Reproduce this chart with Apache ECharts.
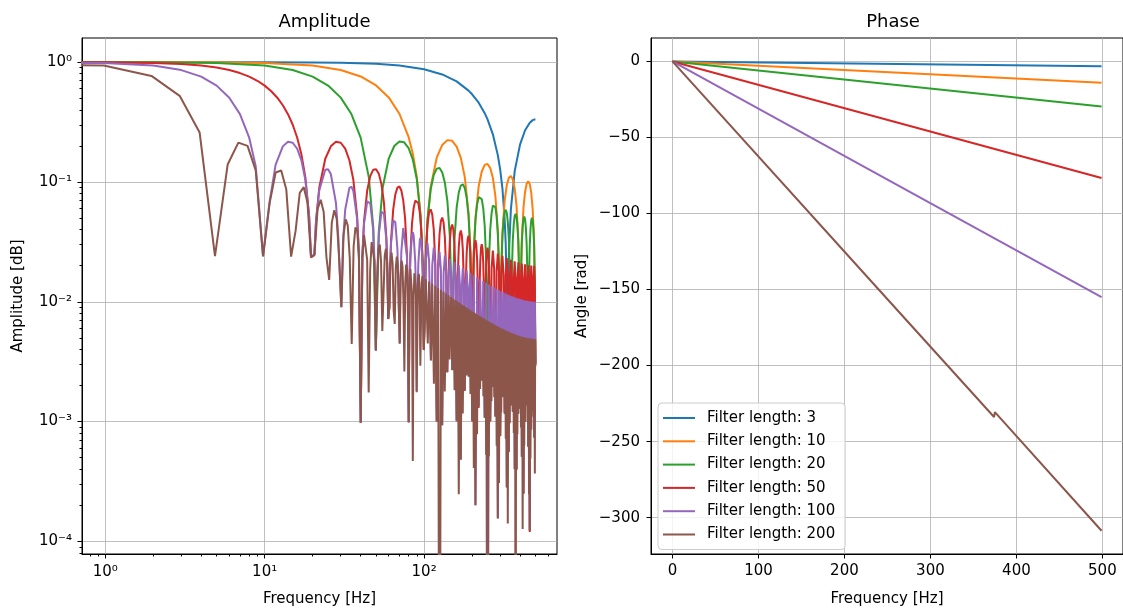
<!DOCTYPE html>
<html><head><meta charset="utf-8">
<script src="https://cdn.jsdelivr.net/npm/echarts@6/dist/echarts.min.js"></script>
<style>html,body{margin:0;padding:0;background:#fff}#c{width:1123px;height:612px}</style>
</head><body><div id="c"></div>
<script>
const seriesNames = ['Filter length: 3','Filter length: 10','Filter length: 20','Filter length: 50','Filter length: 100','Filter length: 200'];
const colors = ['#1f77b4','#ff7f0e','#2ca02c','#d62728','#9467bd','#8c564b'];

// Amplitude responses [frequency Hz, |H|]; the 0 Hz sample (|H| = 1) sits at 0.001 Hz, left of the log axis.
const amp3 = [[0.001,1],[0.977,1],[5,0.9997],[10,0.9987],[20,0.9947],[30,0.9882],[50,0.9674],[70,0.9366],[100,0.8727],[130,0.7897],[160,0.6905],[190,0.5788],[200,0.5393],[220,0.4583],[240,0.3752],[250,0.3333],[270,0.2497],[290,0.1675],[300,0.1273],[310,0.0879],[320,0.0495],[325,0.0307],[330,0.0123],[333.0,0.00116],[333.98,0.00237],[340,0.0239],[350,0.0585],[370,0.1231],[400,0.206],[430,0.2699],[460,0.3124],[480,0.3281],[499.02,0.3333]];
const amp10 = [[0.001,1],[0.977,0.9998],[5,0.9959],[10,0.9836],[20,0.9361],[30,0.8596],[40,0.7589],[50,0.6392],[60,0.5076],[70,0.3709],[80,0.2363],[85,0.172],[90,0.1108],[95,0.0532],[98,0.0207],[98.63,0.0141],[99.61,0.004],[100.59,0.0059],[102,0.0199],[105,0.0483],[110,0.0912],[120,0.1597],[130,0.2037],[140,0.2234],[150,0.2203],[160,0.1974],[170,0.1589],[180,0.1097],[190,0.055],[195,0.0272],[200.2,0.00104],[205,0.026],[210,0.0504],[220,0.0922],[230,0.1223],[240,0.1389],[250,0.1414],[260,0.1305],[270,0.1079],[280,0.0763],[290,0.0391],[295,0.0196],[299.8,0.00076],[305,0.0191],[310,0.0374],[320,0.0696],[330,0.094],[340,0.1085],[350,0.1122],[360,0.1051],[370,0.0881],[380,0.0632],[390,0.0328],[395,0.0165],[400.39,0.00129],[405,0.0164],[410,0.0322],[420,0.0607],[430,0.0829],[440,0.0968],[450,0.1012],[460,0.0959],[470,0.0813],[480,0.0589],[490,0.0309],[499.02,0.00306]];
const amp20 = [[0.001,1],[0.977,0.9994],[2,0.9974],[5,0.9836],[10,0.9357],[15,0.8587],[20,0.7574],[25,0.6373],[30,0.5053],[35,0.3686],[40,0.2345],[45,0.1097],[48,0.0417],[49.8,0.00394],[52,0.0385],[55,0.0899],[60,0.1568],[65,0.1995],[70,0.218],[75,0.2142],[80,0.1912],[85,0.1533],[90,0.1053],[95,0.0525],[98,0.0207],[99.61,0.004],[102,0.0197],[105,0.0477],[110,0.0868],[115,0.1145],[120,0.1292],[125,0.1307],[130,0.1198],[135,0.0983],[140,0.069],[145,0.0351],[148,0.014],[150.39,0.0027],[152,0.0134],[155,0.0327],[160,0.061],[165,0.0816],[170,0.0934],[175,0.0957],[180,0.0888],[185,0.0737],[190,0.0523],[195,0.0269],[198,0.0107],[200.2,0.00104],[202,0.0106],[205,0.0257],[210,0.048],[215,0.0647],[220,0.0746],[225,0.077],[230,0.0719],[235,0.0601],[240,0.0429],[245,0.0222],[248,0.0089],[250,1e-7],[252,0.0088],[255,0.0215],[260,0.0403],[265,0.0547],[270,0.0634],[275,0.0658],[280,0.0617],[285,0.0518],[290,0.0372],[295,0.0193],[298,0.0078],[299.8,0.00076],[302,0.0077],[305,0.0189],[310,0.0355],[315,0.0484],[320,0.0563],[325,0.0586],[330,0.0553],[335,0.0466],[340,0.0335],[345,0.0175],[348,0.0071],[349.61,0.0014],[352,0.007],[355,0.0172],[360,0.0325],[365,0.0444],[370,0.0518],[375,0.0541],[380,0.0511],[385,0.0432],[390,0.0312],[395,0.0163],[398,0.0066],[400.39,0.00129],[402,0.0066],[405,0.0162],[410,0.0306],[415,0.0419],[420,0.0491],[425,0.0514],[430,0.0487],[435,0.0413],[440,0.0299],[445,0.0157],[448,0.0063],[450.2,0.00062],[452,0.0063],[455,0.0156],[460,0.0296],[465,0.0407],[470,0.0478],[475,0.0502],[480,0.0477],[485,0.0405],[490,0.0294],[495,0.0155],[499.02,0.0031]];
const amp50 = [[0.001,1],[0.977,0.9961],[2,0.9836],[3,0.9634],[4,0.9355],[5,0.9003],[6,0.8584],[7,0.8104],[8,0.7569],[9,0.6987],[10,0.6367],[11,0.5718],[12,0.5047],[13,0.4365],[14,0.368],[15,0.3002],[16,0.234],[17,0.1701],[18,0.1093],[19,0.0524],[19.53,0.0234],[20.51,0.0248],[21,0.0474],[22,0.0895],[24,0.1561],[26,0.1983],[28,0.2165],[30,0.2125],[32,0.1895],[34,0.1518],[36,0.1042],[38,0.0519],[39,0.0256],[40.04,0.00098],[41,0.0244],[42,0.047],[44,0.0853],[46,0.1124],[48,0.1266],[50,0.1279],[52,0.117],[54,0.0959],[56,0.0672],[58,0.0341],[59,0.017],[59.57,0.0072],[60.55,0.0091],[61,0.0164],[62,0.0319],[64,0.0588],[66,0.0786],[68,0.0897],[70,0.0917],[72,0.0848],[74,0.0702],[76,0.0497],[78,0.0255],[79,0.0127],[80.08,0.00099],[81,0.0124],[82,0.0243],[84,0.0451],[86,0.0607],[88,0.0698],[90,0.0717],[92,0.0667],[94,0.0556],[96,0.0396],[98,0.0204],[99,0.0102],[99.61,0.004],
[102.5,0.0242],[105,0.0437],[107.5,0.0558],[110,0.059],[112.5,0.0534],[115,0.04],[117.5,0.0212],[120.12,0.001],[122.5,0.0204],[125,0.0369],[127.5,0.0474],[130,0.0504],[132.5,0.0457],[135,0.0344],[137.5,0.0183],[139.65,0.0026],[142.5,0.0177],[145,0.0321],[147.5,0.0413],[150,0.0441],[152.5,0.0401],[155,0.0302],[157.5,0.0161],[160.16,0.001],[162.5,0.0157],[165,0.0285],[167.5,0.0368],[170,0.0393],[172.5,0.0358],[175,0.0271],[177.5,0.0145],[179.69,0.0018],[182.5,0.0141],[185,0.0258],[187.5,0.0333],[190,0.0356],[192.5,0.0325],[195,0.0246],[197.5,0.0132],[200.2,0.001],[202.5,0.0129],[205,0.0236],[207.5,0.0305],[210,0.0326],[212.5,0.0299],[215,0.0226],[217.5,0.0121],[219.73,0.0013],[222.5,0.0119],[225,0.0218],[227.5,0.0282],[230,0.0302],[232.5,0.0277],[235,0.021],[237.5,0.0113],[240.23,0.0011],[242.5,0.0111],[245,0.0203],[247.5,0.0263],[250,0.0283],[252.5,0.0259],[255,0.0197],[257.5,0.0106],
[259.77,0.001],[265,0.0189],[270,0.0267],[275,0.0189],[280.27,0.0011],[285,0.0179],[290,0.0253],[295,0.0179],[299.8,0.00076],[305,0.0171],[310,0.0242],[315,0.0171],[320.31,0.0012],[325,0.0164],[330,0.0232],[335,0.0164],[339.84,0.00056],[345,0.0158],[350,0.0224],[355,0.0158],[360.35,0.0012],[365,0.0154],[370,0.0218],[375,0.0154],[379.88,0.0004],[385,0.0151],[390,0.0213],[395,0.0151],[400.39,0.0013],[405,0.0147],[410,0.0208],[415,0.0147],[419.92,0.00025],[425,0.0145],[430,0.0205],[435,0.0145],[440.43,0.0014],[445,0.0143],[450,0.0202],[455,0.0143],[459.96,0.00012],[465,0.0142],[470,0.0201],[475,0.0142],[480.47,0.0015],[485,0.0141],[490,0.02],[495,0.0141],[499.02,0.003]];
const amp100 = [[0.001,1],[0.977,0.9843],[2,0.9355],[3,0.8584],[4,0.7569],[5,0.6367],[6,0.5046],[7,0.3679],[8,0.2339],[8.789,0.1353],[9.766,0.024],[10.742,0.0685],[11.719,0.1397],[13,0.1981],[14,0.2163],[15,0.2123],[16,0.1893],[17,0.1516],[18,0.104],[19,0.0518],[19.53,0.0239],[20.51,0.0247],[21,0.0469],[22,0.0851],[24,0.1263],[25,0.1275],[26,0.1166],[28,0.0669],[29,0.034],[29.3,0.0238],[30.27,0.009],[31,0.0318],[32,0.0586],[34,0.0892],[35,0.0912],[36,0.0843],[38,0.0494],[39,0.0253],[40.04,0.00098],[41,0.0241],[42,0.0447],[44,0.069],[45,0.071],[46,0.066],[48,0.0391],[49,0.0202],[49.8,0.0039],[50.78,0.0153],[51,0.0194],[52,0.0361],[54,0.0564],[55,0.0582],[56,0.0543],[58,0.0324],[59,0.0168],[59.57,0.0072],[60.55,0.009],[61,0.0162],[62,0.0304],[64,0.0476],[65,0.0493],[66,0.0462],[68,0.0277],[69,0.0144],[69.34,0.0096],[70.31,0.0045],[71,0.014],[72,0.0262],[74,0.0413],[75,0.0428],[76,0.0402],[78,0.0242],[79,0.0126],[80.08,0.00098],[81,0.0123],[82,0.0231],[84,0.0365],[85,0.038],[86,0.0357],[88,0.0216],[89,0.0112],[89.84,0.0018],[91,0.011],[92,0.0207],[94,0.0328],[95,0.0341],[96,0.0322],[98,0.0195],[99,0.0101],[99.61,0.004],
[102.5,0.0218],[105,0.0309],[107.5,0.0218],[110.35,0.00325],[112.5,0.02],[115,0.0283],[117.5,0.02],[120.12,0.001],[122.5,0.0185],[125,0.0261],[127.5,0.0185],[129.88,0.00093],[132.5,0.0172],[135,0.0243],[137.5,0.0172],[139.65,0.00259],[142.5,0.0161],[145,0.0227],[147.5,0.0161],[150.39,0.00269],[152.5,0.0151],[155,0.0214],[157.5,0.0151],[160.16,0.00102],[162.5,0.0143],[165,0.0202],[167.5,0.0143],[169.92,0.00048],[172.5,0.0135],[175,0.0191],[177.5,0.0135],[179.69,0.00183],[182.5,0.0129],[185,0.0182],[187.5,0.0129],[190.43,0.00239],[192.5,0.0123],[195,0.0174],[197.5,0.0123],
[200.2,0.00104],[205,0.0167],[209.96,0.0002],[215,0.016],[219.73,0.00134],[225,0.0154],[230.47,0.00221],[235,0.0149],[240.23,0.00107],[245,0.0144],[250,1e-7],[255,0.0139],[259.77,0.00101],[265,0.0135],[269.53,0.00195],[275,0.0132],[280.27,0.00111],[285,0.0128],[290.04,0.000156],[295,0.0125],[299.8,0.00076],[305,0.0122],[309.57,0.00162],[315,0.012],[320.31,0.00116],[325,0.0117],[330.08,0.00028],[335,0.0115],[339.84,0.00056],[345,0.0113],[349.61,0.00137],[355,0.0111],[360.35,0.00122],[365,0.011],[370.12,0.0004],[375,0.0108],[379.88,0.0004],[385,0.0107],[389.65,0.00117],[395,0.0106],[400.39,0.00128],[405,0.0105],[410.16,0.00051],[415,0.0104],[419.92,0.00025],[425,0.0103],[429.69,0.001],[435,0.0102],[440.43,0.00137],[445,0.0102],[450.2,0.00062],[455,0.0101],[459.96,0.000124],[465,0.0101],[469.73,0.00086],[475,0.01],[480.47,0.00147],[485,0.01],[490.23,0.00074],[495,0.01],[499.02,0.003]];
const amp200 = [[0.001,1],[0.98,0.938],[1.95,0.767],[2.93,0.5235],[3.91,0.2585],[4.88,0.024],[5.86,0.1397],[6.84,0.2129],[7.81,0.1998],[8.79,0.1249],[9.77,0.0239],[10.74,0.0666],[11.72,0.1198],[12.7,0.1245],[13.67,0.0863],[14.65,0.0238],[15.63,0.039],[16.6,0.0811],[17.58,0.0905],[18.55,0.0677],[19.53,0.0237],[20.51,0.0244],[21.48,0.0595],[22.46,0.0709],[23.44,0.0565],[24.41,0.0235],[25.39,0.0152],[26.37,0.0458],[27.34,0.058],[28.32,0.049],[29.3,0.0233],[30.27,0.009],[31.25,0.0361],[32.23,0.0487],[33.2,0.0434],[34.18,0.023],[35.16,0.00445],[36.13,0.0288],[37.11,0.0417],[38.09,0.0391],[39.06,0.0227],[40.04,0.00098],[41.02,0.0232],[41.99,0.0361],[42.97,0.0356],[43.95,0.0224],[44.92,0.00175],[45.9,0.0186],[46.88,0.0315],[47.85,0.0326],[48.83,0.022],[49.8,0.00393],[50.78,0.0148],[51.76,0.0276],[52.73,0.03],[53.71,0.0216],[54.69,0.00571],[55.66,0.0117],[56.64,0.0242],[57.62,0.0277],[58.59,0.0211],[59.57,0.00717],[60.55,0.00892],[61.52,0.0213],[62.5,0.0257],[63.48,0.0207],[64.45,0.00838],[65.43,0.00654],[66.41,0.0187],[67.38,0.0238],[68.36,0.0201],[69.34,0.00939],[70.31,0.00446],[71.29,0.0163],[72.27,0.022],[73.24,0.0196],[74.22,0.0102],[75.2,0.00262],[76.17,0.0142],[77.15,0.0204],[78.13,0.019],[79.1,0.0109],[80.08,0.00099],[81.05,0.0122],[82.03,0.0188],[83.01,0.0185],[83.98,0.0114],[84.96,0.00047],[85.94,0.0104],[86.91,0.0173],[87.89,0.0178],[88.87,0.0119],[89.84,0.00176],[90.82,0.00875],[91.8,0.0159],[92.77,0.0171],[93.75,0.0122],[94.73,0.00292],[95.7,0.00722],[96.68,0.01455],[97.66,0.01648],[98.63,0.01242],[99.61,0.00395],
[102.5,0.01548],[105.47,0.00448],[107.5,0.01479],[110.35,0.00323],[112.5,0.01416],[115.23,0.00207],[117.5,0.01358],[120.12,0.001],[122.5,0.01305],[125,1e-7],[127.5,0.01257],[129.88,0.00093],[132.5,0.01212],[134.77,0.00178],[137.5,0.0117],[139.65,0.00257],[142.5,0.01132],[144.53,0.0033],[147.5,0.01096],[150.39,0.00268],[152.5,0.01063],[155.27,0.00183],[157.5,0.01032],[160.16,0.00102],[162.5,0.01003],[165.04,0.000247],[167.5,0.00976],[169.92,0.000482],[172.5,0.0095],[174.8,0.00117],[177.5,0.00926],[179.69,0.00182],[182.5,0.00903],[184.57,0.00243],[187.5,0.00882],[190.43,0.00237],[192.5,0.00862],[195.31,0.0017],[197.5,0.00843],[200.2,0.00104],[202.5,0.00825],[205.08,0.000409],[207.5,0.00808],[209.96,0.0002],[212.5,0.00792],[214.84,0.000784],[217.5,0.00776],[219.73,0.00134],[222.5,0.00761],[224.61,0.00187],[227.5,0.00748],[230.47,0.00219],[232.5,0.00734],[235.35,0.00163],[237.5,0.00722],[240.23,0.00107],[242.5,0.0071],[245.12,0.000529],[247.5,0.00698],[250,1e-7],[252.5,0.00688],[254.88,0.000513],[257.5,0.00677],[259.77,0.00101],[262.5,0.00667],[264.65,0.00148],[267.5,0.00658],[269.53,0.00194],[272.5,0.00649],[275.39,0.0016],[277.5,0.0064],[280.27,0.00111],[282.5,0.00632],[285.16,0.000628],[287.5,0.00624],[290.04,0.000155],[292.5,0.00617],[294.92,0.000307],[297.5,0.00609],[299.8,0.000756],[302.5,0.00602],[304.69,0.00119],[307.5,0.00596],[309.57,0.00161],[312.5,0.00589],[315.43,0.0016],[317.5,0.00583],[320.31,0.00116],[322.5,0.00577],[325.2,0.000718],[327.5,0.00572],[330.08,0.000285],[332.5,0.00567],[334.96,0.000141],[337.5,0.00562],[339.84,0.000559],[342.5,0.00557],[344.73,0.000967],[347.5,0.00552],[349.61,0.00136],[352.5,0.00548],[355.47,0.00162],[357.5,0.00544],[360.35,0.00121],[362.5,0.0054],[365.23,0.000805],[367.5,0.00536],[370.12,0.000401],[372.5,0.00532],[375,1e-7],[377.5,0.00529],[379.88,0.000396],[382.5,0.00525],[384.77,0.000784],[387.5,0.00522],[389.65,0.00116],[392.5,0.00519],[394.53,0.00153],[397.5,0.00517],[400.39,0.00128],[402.5,0.00514],[405.27,0.000894],[407.5,0.00511],[410.16,0.00051],[412.5,0.00509],[415.04,0.000127],[417.5,0.00507],[419.92,0.000253],[422.5,0.00505],[424.8,0.000629],[427.5,0.00503],[429.69,0.000999],[432.5,0.00501],[434.57,0.00136],[437.5,0.005],[440.43,0.00136],[442.5,0.00498],[445.31,0.00099],[447.5,0.00497],[450.2,0.00062],[452.5,0.00496],[455.08,0.000248],[457.5,0.00494],[459.96,0.000123],[462.5,0.00493],[464.84,0.000493],[467.5,0.00493],[469.73,0.000859],[472.5,0.00492],[474.61,0.00122],[477.5,0.00491],[480.47,0.00145],[482.5,0.00491],[485.35,0.0011],[487.5,0.0049],[490.23,0.000734],[492.5,0.0049],[495.12,0.000368],[497.07,0.00482],[499.02,0.00288]];

// Phase responses [frequency Hz, angle rad]
const phase3 = [[0,0],[499.02,-3.1]];
const phase10 = [[0,0],[499.02,-14.0]];
const phase20 = [[0,0],[499.02,-29.6]];
const phase50 = [[0,0],[499.02,-76.6]];
const phase100 = [[0,0],[249.02,-77.4],[250,-76.2],[250.98,-78.0],[499.02,-155.0]];
const phase200 = [[0,0],[249.02,-155.7],[250,-154.6],[250.98,-156.3],[374.02,-233.8],[375,-230.6],[375.98,-231.2],[499.02,-308.6]];

const ampXMajor = [1,10,100];
const ampXMinor = [0.8,0.9,2,3,4,5,6,7,8,9,20,30,40,50,60,70,80,90,200,300,400,500,600];
const ampYMajor = [1e-4,1e-3,1e-2,1e-1,1];
const ampYMinor = [8e-5,9e-5,2e-4,3e-4,4e-4,5e-4,6e-4,7e-4,8e-4,9e-4,2e-3,3e-3,4e-3,5e-3,6e-3,7e-3,8e-3,9e-3,0.02,0.03,0.04,0.05,0.06,0.07,0.08,0.09,0.2,0.3,0.4,0.5,0.6,0.7,0.8,0.9];
const phaseXTicks = [0,100,200,300,400,500];
const phaseYTicks = [0,-50,-100,-150,-200,-250,-300];

const ampData = [amp3, amp10, amp20, amp50, amp100, amp200];
const phaseData = [phase3, phase10, phase20, phase50, phase100, phase200];

const FONT = 'DejaVu Sans';
const supMap = {'-':'\u207B','0':'\u2070','1':'\u00B9','2':'\u00B2','3':'\u00B3','4':'\u2074','5':'\u2075'};
const powLabel = v => { const e = Math.round(Math.log10(v)); return '10' + String(e).split('').map(c => supMap[c]).join(''); };
const minusLabel = v => v < 0 ? '\u2212' + Math.abs(v) : String(v);

const tickStyle = {color:'#000', width:1};
const gridLine = {show:true, lineStyle:{color:'#b0b0b0', width:0.8}};
const labelStyle = {fontFamily:FONT, fontSize:15, color:'#000'};

const chart = echarts.init(document.getElementById('c'), null, {renderer:'canvas'});
const series = [];
ampData.forEach((d, i) => series.push({type:'line', name:seriesNames[i], xAxisIndex:0, yAxisIndex:0, data:d, showSymbol:false, symbol:'none', clip:true, lineStyle:{width:2, color:colors[i]}, itemStyle:{color:colors[i]}, silent:true, animation:false}));
phaseData.forEach((d, i) => series.push({type:'line', name:seriesNames[i], xAxisIndex:2, yAxisIndex:2, data:d, showSymbol:false, symbol:'none', clip:true, lineStyle:{width:2, color:colors[i]}, itemStyle:{color:colors[i]}, silent:true, animation:false}));

chart.setOption({
  animation:false,
  backgroundColor:'#fff',
  textStyle:{fontFamily:FONT},
  title:[
    {text:'Amplitude', left:319.5, top:8, textAlign:'center', textStyle:{fontFamily:FONT, fontSize:18, fontWeight:'normal', color:'#000'}},
    {text:'Phase', left:888, top:8, textAlign:'center', textStyle:{fontFamily:FONT, fontSize:18, fontWeight:'normal', color:'#000'}}
  ],
  grid:[
    {left:82, top:38, width:475, height:519, show:true, borderColor:'#000', borderWidth:1, backgroundColor:'rgba(0,0,0,0)', containLabel:false},
    {left:651, top:38, width:474, height:519, show:true, borderColor:'#000', borderWidth:1, backgroundColor:'rgba(0,0,0,0)', containLabel:false}
  ],
  legend:{
    data:seriesNames, orient:'vertical', left:658, top:403,
    icon:'rect', itemWidth:32, itemHeight:2, itemGap:7.3,
    backgroundColor:'rgba(255,255,255,0.8)', borderColor:'#cccccc', borderWidth:1, borderRadius:4,
    padding:[7,10,7,5],
    textStyle:{fontFamily:FONT, fontSize:15, color:'#000', lineHeight:16, padding:[0,0,0,7]},
    selectedMode:false
  },
  xAxis:[
    {type:'log', gridIndex:0, logBase:10, min:0.71506, max:681.7, position:'bottom',
     axisLine:{show:true, onZero:false, lineStyle:{color:'#000', width:1}},
     axisTick:{show:true, length:4.5, lineStyle:tickStyle, customValues:ampXMajor},
     axisLabel:Object.assign({customValues:ampXMajor, formatter:powLabel, margin:11}, labelStyle),
     splitLine:gridLine, minorTick:{show:false}, minorSplitLine:{show:false},
     name:'Frequency [Hz]', nameLocation:'middle', nameGap:38, nameTextStyle:labelStyle},
    {type:'log', gridIndex:0, logBase:10, min:0.71506, max:681.7, position:'bottom',
     axisLine:{show:false, onZero:false}, axisLabel:{show:false}, splitLine:{show:false},
     axisTick:{show:true, length:2.5, lineStyle:tickStyle, customValues:ampXMinor}},
    {type:'value', gridIndex:1, min:-24.95, max:523.97, position:'bottom',
     axisLine:{show:true, onZero:false, lineStyle:{color:'#000', width:1}},
     axisTick:{show:true, length:4.5, lineStyle:tickStyle, customValues:phaseXTicks},
     axisLabel:Object.assign({customValues:phaseXTicks, margin:10}, labelStyle),
     splitLine:gridLine,
     name:'Frequency [Hz]', nameLocation:'middle', nameGap:38, nameTextStyle:labelStyle}
  ],
  yAxis:[
    {type:'log', gridIndex:0, logBase:10, min:7.85e-5, max:1.59, position:'left',
     axisLine:{show:true, onZero:false, lineStyle:{color:'#000', width:1}},
     axisTick:{show:true, length:4.5, lineStyle:tickStyle, customValues:ampYMajor},
     axisLabel:Object.assign({customValues:ampYMajor, formatter:powLabel, margin:10}, labelStyle),
     splitLine:gridLine, minorTick:{show:false}, minorSplitLine:{show:false},
     name:'Amplitude [dB]', nameLocation:'middle', nameGap:56, nameTextStyle:labelStyle},
    {type:'log', gridIndex:0, logBase:10, min:7.85e-5, max:1.59, position:'left',
     axisLine:{show:false, onZero:false}, axisLabel:{show:false}, splitLine:{show:false},
     axisTick:{show:true, length:2.5, lineStyle:tickStyle, customValues:ampYMinor}},
    {type:'value', gridIndex:1, min:-323.9, max:15.4, position:'left',
     axisLine:{show:true, onZero:false, lineStyle:{color:'#000', width:1}},
     axisTick:{show:true, length:4.5, lineStyle:tickStyle, customValues:phaseYTicks},
     axisLabel:Object.assign({customValues:phaseYTicks, formatter:minusLabel, margin:11}, labelStyle),
     splitLine:gridLine,
     name:'Angle [rad]', nameLocation:'middle', nameGap:61, nameTextStyle:labelStyle}
  ],
  series:series
});
</script>
</body></html>
